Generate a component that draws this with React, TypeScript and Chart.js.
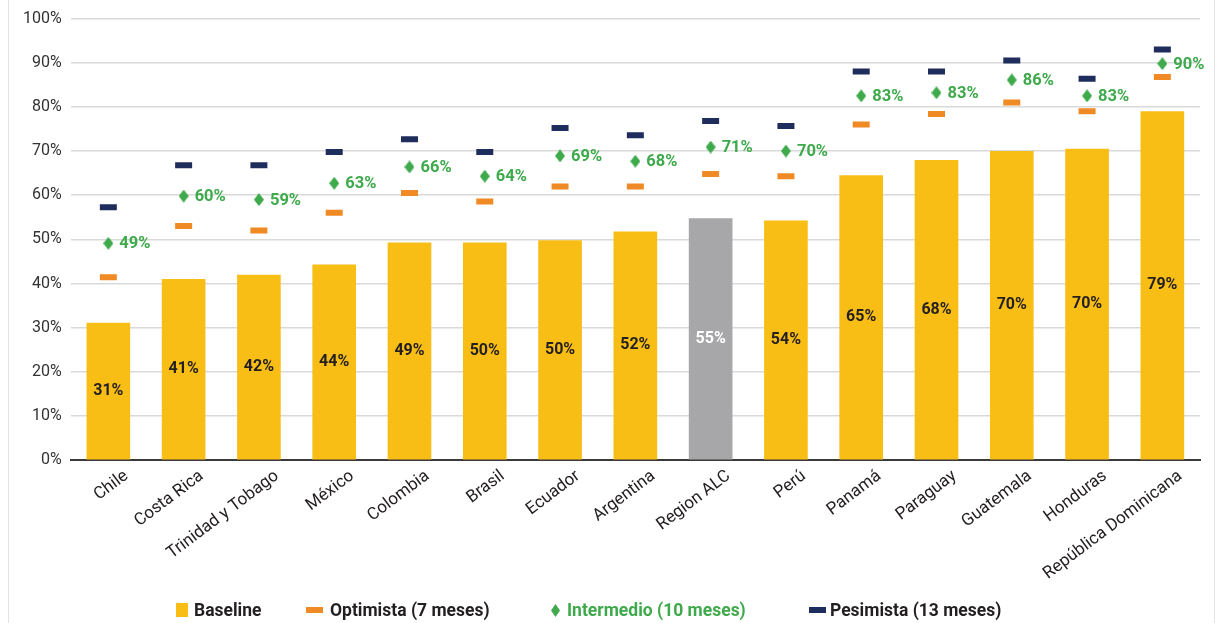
import React, { useEffect, useRef } from 'react';
import { Chart, registerables } from 'chart.js';

Chart.register(...registerables);

const categories = ['Chile', 'Costa Rica', 'Trinidad y Tobago', 'México', 'Colombia', 'Brasil', 'Ecuador', 'Argentina', 'Region ALC', 'Perú', 'Panamá', 'Paraguay', 'Guatemala', 'Honduras', 'República Dominicana'];
const baseline = [31.1, 41, 42, 44.3, 49.3, 49.3, 49.8, 51.8, 54.8, 54.3, 64.5, 68, 70, 70.5, 79];
const baselineLabels = ['31%', '41%', '42%', '44%', '49%', '50%', '50%', '52%', '55%', '54%', '65%', '68%', '70%', '70%', '79%'];
const optimista = [41.4, 53, 52, 56, 60.5, 58.6, 62, 62, 64.8, 64.3, 76, 78.4, 81, 79, 86.8];
const intermedio = [49.1, 59.8, 59, 62.7, 66.4, 64.3, 68.9, 67.7, 70.9, 70, 82.5, 83.2, 86.1, 82.5, 89.8];
const intermedioLabels = ['49%', '60%', '59%', '63%', '66%', '64%', '69%', '68%', '71%', '70%', '83%', '83%', '86%', '83%', '90%'];
const pesimista = [57.3, 66.8, 66.8, 69.8, 72.7, 69.8, 75.2, 73.6, 76.8, 75.7, 88, 88, 90.5, 86.4, 93];
const highlightIndex = 8;

const YELLOW = '#F9BE16';
const GRAY = '#A7A7A9';
const ORANGE = '#F08A24';
const GREEN = '#3EAA4B';
const NAVY = '#1F2D5C';
const FONT = 'Roboto, "Liberation Sans", sans-serif';

function makeDiamond(w: number, h: number, color: string) {
  const c = document.createElement('canvas');
  c.width = w;
  c.height = h;
  const ctx = c.getContext('2d')!;
  ctx.fillStyle = color;
  ctx.beginPath();
  ctx.moveTo(w / 2, 0);
  ctx.lineTo(w, h / 2);
  ctx.lineTo(w / 2, h);
  ctx.lineTo(0, h / 2);
  ctx.closePath();
  ctx.fill();
  return c;
}

const labelPlugin = {
  id: 'valueLabels',
  afterDatasetsDraw(chart: any) {
    const ctx = chart.ctx;
    ctx.save();
    ctx.textBaseline = 'middle';
    ctx.font = `bold 16px ${FONT}`;
    const barMeta = chart.getDatasetMeta(3);
    barMeta.data.forEach((el: any, i: number) => {
      ctx.fillStyle = i === highlightIndex ? '#FFFFFF' : '#231F20';
      ctx.textAlign = 'center';
      ctx.fillText(baselineLabels[i], el.x, (el.y + el.base) / 2);
    });
    ctx.font = `bold 16.5px ${FONT}`;
    const midMeta = chart.getDatasetMeta(1);
    midMeta.data.forEach((el: any, i: number) => {
      ctx.fillStyle = GREEN;
      ctx.textAlign = 'left';
      ctx.fillText(intermedioLabels[i], el.x + 11, el.y + 1);
    });
    ctx.restore();
  },
};

export default function App() {
  const ref = useRef<HTMLCanvasElement>(null);
  useEffect(() => {
    document.body.style.margin = '0';
    const diamond = makeDiamond(10, 13, GREEN);
    const chart = new Chart(ref.current!, {
      type: 'bar',
      data: {
        labels: categories,
        datasets: [
          {
            type: 'line',
            label: 'Optimista (7 meses)',
            data: optimista,
            showLine: false,
            pointStyle: 'line',
            pointRadius: 8.5,
            pointBorderWidth: 6,
            pointBorderColor: ORANGE,
            pointBackgroundColor: ORANGE,
            order: 1,
          } as any,
          {
            type: 'line',
            label: 'Intermedio (10 meses)',
            data: intermedio,
            showLine: false,
            pointStyle: diamond,
            pointRadius: 6,
            order: 1,
          } as any,
          {
            type: 'line',
            label: 'Pesimista (13 meses)',
            data: pesimista,
            showLine: false,
            pointStyle: 'line',
            pointRadius: 8.5,
            pointBorderWidth: 6,
            pointBorderColor: NAVY,
            pointBackgroundColor: NAVY,
            order: 1,
          } as any,
          {
            type: 'bar',
            label: 'Baseline',
            data: baseline,
            backgroundColor: categories.map((_, i) => (i === highlightIndex ? GRAY : YELLOW)),
            categoryPercentage: 1,
            barPercentage: 0.58,
            order: 10,
          },
        ],
      },
      options: {
        responsive: false,
        animation: false,
        events: [],
        layout: { padding: { left: 14, right: 17, top: 11, bottom: 33 } },
        plugins: {
          legend: { display: false },
          tooltip: { enabled: false },
        },
        scales: {
          x: {
            grid: { display: false, drawTicks: false },
            border: { display: true, color: '#3a3a3a', width: 2 },
            ticks: {
              autoSkip: false,
              minRotation: 37,
              maxRotation: 37,
              padding: 6,
              labelOffset: 18,
              color: '#231F20',
              font: { family: FONT, size: 17 },
            },
          },
          y: {
            min: 0,
            max: 100,
            grid: { color: '#D9D9D9', lineWidth: 1.5, drawTicks: false },
            border: { display: false },
            ticks: {
              stepSize: 10,
              padding: 9,
              color: '#333333',
              font: { family: FONT, size: 16 },
              callback: (v: any) => `${v}%`,
            },
          },
        },
      },
      plugins: [labelPlugin],
    });
    return () => chart.destroy();
  }, []);

  const legendText: React.CSSProperties = { fontFamily: FONT, fontWeight: 700, fontSize: 17.5, color: '#231F20', whiteSpace: 'nowrap' };
  const item = (left: number): React.CSSProperties => ({ position: 'absolute', left, top: 600, display: 'flex', alignItems: 'center', height: 20 });

  return (
    <div style={{ position: 'relative', width: 1217, height: 623, overflow: 'hidden' }}>
      <canvas ref={ref} width={1217} height={623} style={{ display: 'block' }} />
      <div style={{ position: 'absolute', left: 8, top: 0, width: 1207, height: 623, borderLeft: '1px solid #E4E4E4', borderRight: '1px solid #E4E4E4', boxSizing: 'border-box', pointerEvents: 'none' }} />
      <div style={item(176)}>
        <span style={{ display: 'inline-block', width: 12, height: 14, background: YELLOW, marginRight: 6 }} />
        <span style={legendText}>Baseline</span>
      </div>
      <div style={item(306)}>
        <span style={{ display: 'inline-block', width: 17, height: 6, background: ORANGE, marginRight: 7 }} />
        <span style={legendText}>Optimista (7 meses)</span>
      </div>
      <div style={item(551)}>
        <svg width={9} height={13} style={{ marginRight: 7 }}>
          <polygon points="4.5,0 9,6.5 4.5,13 0,6.5" fill={GREEN} />
        </svg>
        <span style={{ ...legendText, color: GREEN }}>Intermedio (10 meses)</span>
      </div>
      <div style={item(809)}>
        <span style={{ display: 'inline-block', width: 17, height: 6, background: NAVY, marginRight: 4 }} />
        <span style={legendText}>Pesimista (13 meses)</span>
      </div>
    </div>
  );
}
